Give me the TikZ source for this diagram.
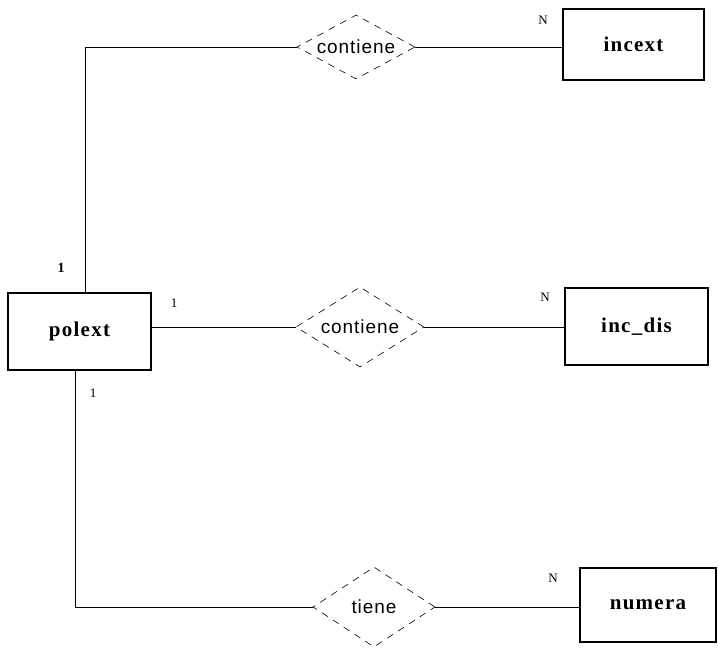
\documentclass[tikz,border=0pt]{standalone}
\usepackage{fontspec}
\setmainfont{Liberation Serif}
\setsansfont{Liberation Sans}
\newfontfamily\entfont[LetterSpace=6]{Liberation Serif}
\newfontfamily\relfont[LetterSpace=5]{Liberation Sans}
\usetikzlibrary{shapes.geometric}
\begin{document}
\begin{tikzpicture}[x=1pt,y=-1pt,
  ent/.style={draw, line width=1.8pt, inner sep=0pt, font=\entfont\fontsize{21}{24}\selectfont\bfseries},
  rel/.style={diamond, draw, dash pattern=on 7pt off 6pt, line width=0.6pt, inner sep=0pt, font=\relfont\fontsize{19}{22}\selectfont},
  conn/.style={line width=0.9pt},
  card/.style={inner sep=0pt, font=\fontsize{13}{15}\selectfont}]
\useasboundingbox (0,0) rectangle (718,650);
\node[ent, minimum width=143pt, minimum height=77pt] (polext) at (79.5,331.5) {polext};
\node[ent, minimum width=141pt, minimum height=71pt] (incext) at (633.5,44.5) {incext};
\node[ent, minimum width=143pt, minimum height=77pt] (incdis) at (636.5,326.5) {inc\_dis};
\node[ent, minimum width=136pt, minimum height=74pt] (numera) at (648,605) {numera};
\node[rel, aspect=1.84, minimum width=118pt, minimum height=64pt] (d1) at (356,47) {contiene};
\node[rel, aspect=1.6, minimum width=128pt, minimum height=80pt] (d2) at (360,327) {contiene};
\node[rel, aspect=1.52, minimum width=122pt, minimum height=80pt] (d3) at (374,607) {tiene};
\draw[conn] ([xshift=6pt]polext.north) |- (d1.west);
\draw[conn] (d1.east) -- (d1.east -| incext.west);
\draw[conn] (polext.east |- d2.west) -- (d2.west);
\draw[conn] (d2.east) -- (d2.east -| incdis.west);
\draw[conn] ([xshift=-4pt]polext.south) |- (d3.west);
\draw[conn] (d3.east) -- (d3.east -| numera.west);
\node[card, font=\fontsize{14}{16}\selectfont\bfseries] (c1) at (61,268) {1};
\node[card] (c2) at (174,303) {1};
\node[card] (c3) at (93,393) {1};
\node[card] (n1) at (543,20) {N};
\node[card] (n2) at (545,297) {N};
\node[card] (n3) at (553,578) {N};
\end{tikzpicture}
\end{document}
